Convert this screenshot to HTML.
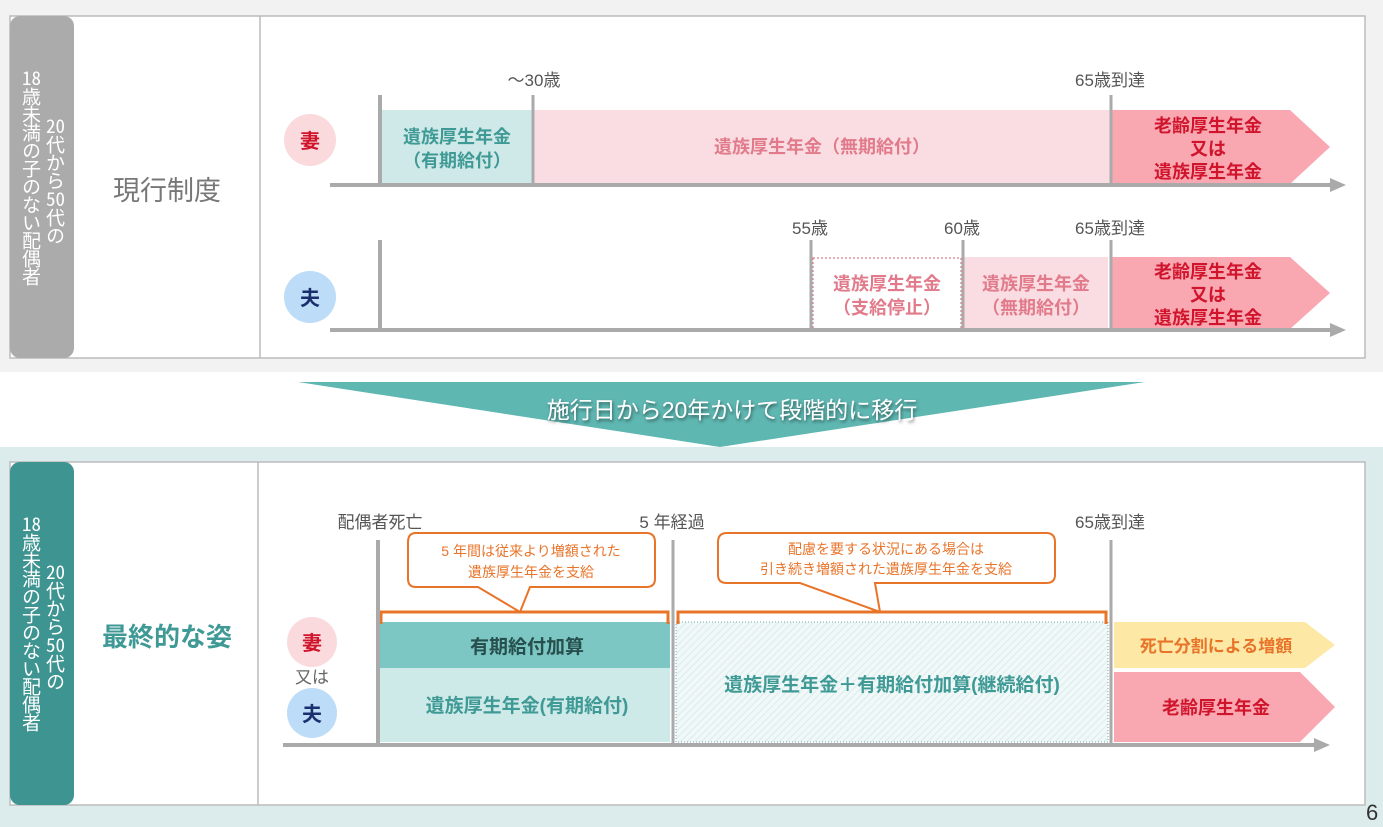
<!DOCTYPE html>
<html><head><meta charset="utf-8"><style>
body{margin:0;width:1383px;height:827px;overflow:hidden;background:#fff;font-family:"Liberation Sans","Noto Sans CJK JP",sans-serif;position:relative}
svg text{font-family:"Liberation Sans","Noto Sans CJK JP",sans-serif}
.v{position:absolute;writing-mode:vertical-rl;text-orientation:upright;color:#fff;font-size:19px;line-height:22px;font-family:"Noto Sans CJK JP",sans-serif;letter-spacing:-1px}
.v span{text-combine-upright:all}
</style></head><body>
<svg width="1383" height="827" viewBox="0 0 1383 827" xmlns="http://www.w3.org/2000/svg" style="position:absolute;left:0;top:0">
<defs>
<pattern id="hatch" width="5" height="5" patternUnits="userSpaceOnUse" patternTransform="rotate(45)">
<rect width="5" height="5" fill="#f0f8f8"/><line x1="0" y1="0" x2="0" y2="5" stroke="#d5e8e8" stroke-width="1.5"/></pattern>
<filter id="sh"><feDropShadow dx="1" dy="2" stdDeviation="1.5" flood-color="#000" flood-opacity="0.5"/></filter>
</defs>
<rect x="0" y="0" width="1383" height="372" fill="#f2f2f2"/>
<rect x="10" y="16" width="1355" height="342" fill="#fff" stroke="#bbb" stroke-width="1.5"/>
<rect x="10" y="16" width="64" height="342" rx="10" fill="#ababab"/>
<line x1="260" y1="16" x2="260" y2="358" stroke="#bbb" stroke-width="1.5"/>
<text x="167" y="200" font-size="27" fill="#777" text-anchor="middle">現行制度</text>

<text x="534" y="86" font-size="17" fill="#555" text-anchor="middle">～30歳</text>
<text x="1110" y="86" font-size="17" fill="#555" text-anchor="middle">65歳到達</text>
<circle cx="310" cy="140" r="26" fill="#fadadd"/><text x="310" y="148" font-size="20" fill="#d0142c" text-anchor="middle" font-weight="bold">妻</text>
<rect x="382" y="110" width="150" height="74" fill="#cfe9e8"/>
<text x="457" y="143" font-size="18" fill="#3f9a96" text-anchor="middle" font-weight="bold">遺族厚生年金</text>
<text x="457" y="167" font-size="18" fill="#3f9a96" text-anchor="middle" font-weight="bold">（有期給付）</text>
<rect x="534" y="110" width="576" height="74" fill="#fadde2"/>
<text x="822" y="153" font-size="18" fill="#e17a8a" text-anchor="middle" font-weight="bold">遺族厚生年金（無期給付）</text>
<polygon points="1112,110 1290,110 1330,147 1290,184 1112,184" fill="#f9a8b2"/>
<g font-size="18" fill="#d0142c" text-anchor="middle" font-weight="bold">
<text x="1208" y="132">老齢厚生年金</text><text x="1208" y="155">又は</text><text x="1208" y="178">遺族厚生年金</text></g>
<line x1="330" y1="185" x2="1335" y2="185" stroke="#aaa" stroke-width="4"/>
<polygon points="1330,178 1346,185 1330,192" fill="#aaa"/>
<line x1="380" y1="95" x2="380" y2="185" stroke="#aaa" stroke-width="4"/>
<line x1="533" y1="95" x2="533" y2="185" stroke="#aaa" stroke-width="3"/>
<line x1="1111" y1="95" x2="1111" y2="185" stroke="#aaa" stroke-width="3"/>

<text x="810" y="234" font-size="17" fill="#555" text-anchor="middle">55歳</text>
<text x="962" y="234" font-size="17" fill="#555" text-anchor="middle">60歳</text>
<text x="1110" y="234" font-size="17" fill="#555" text-anchor="middle">65歳到達</text>
<circle cx="310" cy="297" r="26" fill="#bcdcf7"/><text x="310" y="305" font-size="20" fill="#1a2f6e" text-anchor="middle" font-weight="bold">夫</text>
<rect x="813" y="258" width="148" height="71" fill="#fff" stroke="#e17a8a" stroke-width="1.2" stroke-dasharray="2,2"/>
<text x="887" y="290" font-size="18" fill="#e17a8a" text-anchor="middle" font-weight="bold">遺族厚生年金</text>
<text x="887" y="314" font-size="18" fill="#e17a8a" text-anchor="middle" font-weight="bold">（支給停止）</text>
<rect x="964" y="257" width="144" height="72" fill="#fadde2"/>
<text x="1036" y="290" font-size="18" fill="#e17a8a" text-anchor="middle" font-weight="bold">遺族厚生年金</text>
<text x="1036" y="314" font-size="18" fill="#e17a8a" text-anchor="middle" font-weight="bold">（無期給付）</text>
<polygon points="1112,257 1290,257 1330,293 1290,329 1112,329" fill="#f9a8b2"/>
<g font-size="18" fill="#d0142c" text-anchor="middle" font-weight="bold">
<text x="1208" y="278">老齢厚生年金</text><text x="1208" y="301">又は</text><text x="1208" y="324">遺族厚生年金</text></g>
<line x1="330" y1="330" x2="1335" y2="330" stroke="#aaa" stroke-width="4"/>
<polygon points="1330,323 1346,330 1330,337" fill="#aaa"/>
<line x1="380" y1="240" x2="380" y2="330" stroke="#aaa" stroke-width="4"/>
<line x1="811" y1="240" x2="811" y2="330" stroke="#aaa" stroke-width="3"/>
<line x1="963" y1="240" x2="963" y2="330" stroke="#aaa" stroke-width="3"/>
<line x1="1111" y1="240" x2="1111" y2="330" stroke="#aaa" stroke-width="3"/>

<polygon points="298,382 1145,382 720,447" fill="#5fb7b2"/>
<text x="732" y="418" font-size="23" fill="#fff" text-anchor="middle" filter="url(#sh)">施行日から20年かけて段階的に移行</text>

<rect x="0" y="447" width="1383" height="380" fill="#dcecec"/>
<rect x="10" y="462" width="1355" height="343" fill="#fff" stroke="#bbb" stroke-width="1.5"/>
<rect x="10" y="462" width="64" height="343" rx="10" fill="#3d9490"/>
<line x1="258" y1="462" x2="258" y2="805" stroke="#bbb" stroke-width="1.5"/>
<text x="167" y="646" font-size="26" fill="#3f9a96" text-anchor="middle" font-weight="bold">最終的な姿</text>

<text x="380" y="528" font-size="17" fill="#555" text-anchor="middle">配偶者死亡</text>
<text x="672" y="528" font-size="17" fill="#555" text-anchor="middle">5 年経過</text>
<text x="1110" y="528" font-size="17" fill="#555" text-anchor="middle">65歳到達</text>

<circle cx="312" cy="642" r="25" fill="#fadadd"/><text x="312" y="650" font-size="20" fill="#d0142c" text-anchor="middle" font-weight="bold">妻</text>
<text x="312" y="683" font-size="17" fill="#666" text-anchor="middle">又は</text>
<circle cx="312" cy="713" r="25" fill="#bcdcf7"/><text x="312" y="721" font-size="20" fill="#1a2f6e" text-anchor="middle" font-weight="bold">夫</text>

<rect x="380" y="622" width="290" height="46" fill="#7cc6c3"/>
<text x="527" y="653" font-size="19" fill="#264f4d" text-anchor="middle" font-weight="bold">有期給付加算</text>
<rect x="380" y="668" width="290" height="74" fill="#cde9e8"/>
<text x="527" y="712" font-size="19" fill="#3f9a96" text-anchor="middle" font-weight="bold">遺族厚生年金(有期給付)</text>
<rect x="676" y="622" width="432" height="120" fill="url(#hatch)" stroke="#7aa" stroke-width="1" stroke-dasharray="1,2"/>
<text x="892" y="691" font-size="19" fill="#3f9a96" text-anchor="middle" font-weight="bold">遺族厚生年金＋有期給付加算(継続給付)</text>

<polyline points="381,624 381,612 668,612 668,624" fill="none" stroke="#e8742a" stroke-width="3"/>
<polyline points="678,624 678,612 1106,612 1106,624" fill="none" stroke="#e8742a" stroke-width="3"/>

<path d="M416,533 H646 Q655,533 655,542 V579 Q655,587 646,587 H530 L520,612 L478,587 H416 Q408,587 408,579 V542 Q408,533 416,533 Z" fill="#fff" stroke="#e8742a" stroke-width="2"/>
<text x="531" y="556" font-size="14" fill="#e8742a" text-anchor="middle">5 年間は従来より増額された</text>
<text x="531" y="577" font-size="14" fill="#e8742a" text-anchor="middle">遺族厚生年金を支給</text>
<path d="M727,533 H1046 Q1055,533 1055,542 V575 Q1055,583 1046,583 H875 L880,612 L800,583 H727 Q718,583 718,575 V542 Q718,533 727,533 Z" fill="#fff" stroke="#e8742a" stroke-width="2"/>
<text x="886" y="554" font-size="14" fill="#e8742a" text-anchor="middle">配慮を要する状況にある場合は</text>
<text x="886" y="574" font-size="14" fill="#e8742a" text-anchor="middle">引き続き増額された遺族厚生年金を支給</text>

<polygon points="1114,622 1305,622 1335,645 1305,668 1114,668" fill="#fde9a5"/>
<text x="1216" y="652" font-size="17" fill="#e8742a" text-anchor="middle" font-weight="bold">死亡分割による増額</text>
<polygon points="1114,672 1300,672 1335,707 1300,742 1114,742" fill="#f9a8b2"/>
<text x="1216" y="714" font-size="18" fill="#d0142c" text-anchor="middle" font-weight="bold">老齢厚生年金</text>

<line x1="283" y1="745" x2="1318" y2="745" stroke="#aaa" stroke-width="4"/>
<polygon points="1314,738 1330,745 1314,752" fill="#aaa"/>
<line x1="378" y1="540" x2="378" y2="745" stroke="#aaa" stroke-width="4"/>
<line x1="673" y1="540" x2="673" y2="745" stroke="#aaa" stroke-width="3"/>
<line x1="1111" y1="540" x2="1111" y2="745" stroke="#aaa" stroke-width="3"/>

<text x="1366" y="820" font-size="22" fill="#333">6</text>
</svg>
<div class="v" style="left:20px;top:68px"><span>18</span>歳未満の子のない配偶者</div>
<div class="v" style="left:44px;top:116px"><span>20</span>代から<span>50</span>代の</div>
<div class="v" style="left:20px;top:514px"><span>18</span>歳未満の子のない配偶者</div>
<div class="v" style="left:44px;top:562px"><span>20</span>代から<span>50</span>代の</div>
</body></html>
